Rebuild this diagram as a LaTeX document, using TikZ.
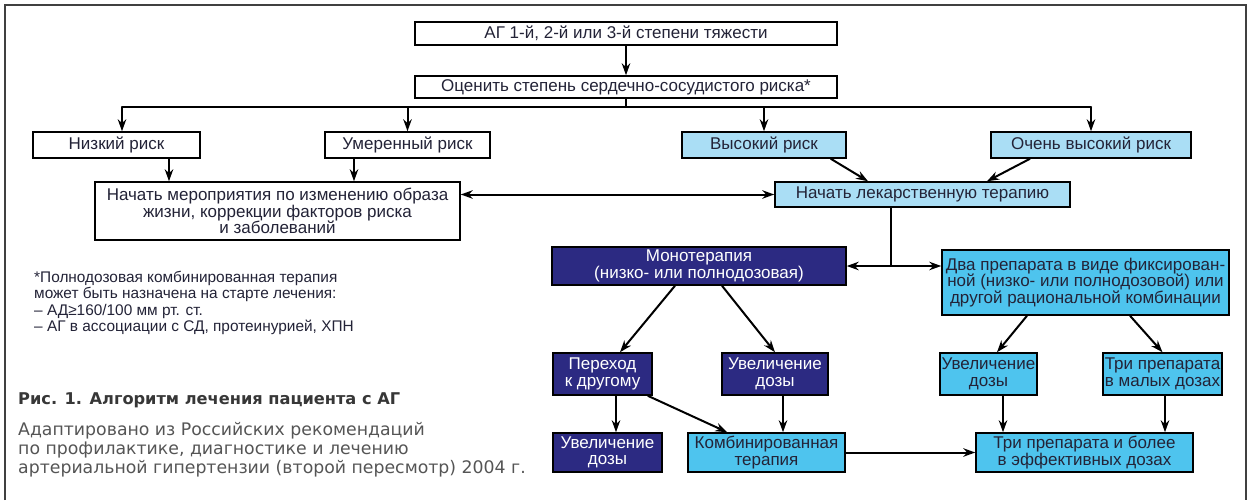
\documentclass[tikz,border=0pt]{standalone}
\usepackage{fontspec}
\setmainfont{Liberation Sans}
\newfontfamily\capfont{DejaVu Sans}
\usetikzlibrary{arrows.meta}
\definecolor{lblue}{RGB}{170,222,245}
\definecolor{cyanb}{RGB}{78,196,238}
\definecolor{navy}{RGB}{44,42,130}
\definecolor{txt}{RGB}{35,35,55}
\definecolor{capgray}{RGB}{55,55,55}
\definecolor{subgray}{RGB}{85,85,85}
\begin{document}
\begin{tikzpicture}[x=1pt,y=-1pt,
  box/.style={draw=black, line width=1.5pt, inner sep=0pt, align=center,
    font=\fontsize{17}{16.5}\selectfont, text=txt},
  wbox/.style={box, fill=white},
  lbox/.style={box, fill=lblue},
  cbox/.style={box, fill=cyanb},
  nbox/.style={box, fill=navy, text=white},
  arr/.style={line width=2pt, -{Stealth[length=12pt,width=8.5pt]}},
  darr/.style={line width=2pt, {Stealth[length=12pt,width=8.5pt]}-{Stealth[length=12pt,width=8.5pt]}},
  ln/.style={line width=2pt},
  note/.style={inner sep=0pt, align=left, text=txt, font=\fontsize{15.4}{16.5}\selectfont},
]
\fill[white] (0,0) rectangle (1251,496);
\draw[line width=1.5pt, black!75] (5,500) -- (5,5) -- (1246,5) -- (1246,500);

% boxes
\node[wbox, minimum width=422pt, minimum height=23pt] (b1) at (626,33.5) {АГ 1-й, 2-й или 3-й степени тяжести};
\node[wbox, minimum width=422pt, minimum height=22pt] (b2) at (626,87) {Оценить степень сердечно-сосудистого риска*};
\node[wbox, minimum width=167pt, minimum height=26pt] (low) at (116.5,145) {Низкий риск};
\node[wbox, minimum width=165pt, minimum height=26pt] (mod) at (407.5,145) {Умеренный риск};
\node[lbox, minimum width=164pt, minimum height=26pt] (high) at (764,145) {Высокий риск};
\node[lbox, minimum width=200pt, minimum height=26pt] (vhigh) at (1091,145) {Очень высокий риск};
\node[wbox, minimum width=365pt, minimum height=58pt] (life) at (277.5,211) {Начать мероприятия по изменению образа\\жизни, коррекции факторов риска\\и заболеваний};
\node[lbox, minimum width=295pt, minimum height=25pt] (drug) at (922.5,194.5) {Начать лекарственную терапию};
\node[nbox, minimum width=294pt, minimum height=38pt] (mono) at (699,266) {Монотерапия\\(низко- или полнодозовая)};
\node[cbox, minimum width=287pt, minimum height=65pt] (two) at (1085.5,282.5) {Два препарата в виде фиксирован-\\ной (низко- или полнодозовой) или\\другой рациональной комбинации};
\node[nbox, minimum width=99pt, minimum height=42pt] (sw) at (602.5,374) {Переход\\к другому};
\node[nbox, minimum width=106pt, minimum height=42pt] (incN) at (775,374) {Увеличение\\дозы};
\node[nbox, minimum width=109pt, minimum height=39pt] (incN2) at (607.5,452.5) {Увеличение\\дозы};
\node[cbox, minimum width=157pt, minimum height=39pt] (comb) at (766.5,452.5) {Комбинированная\\терапия};
\node[cbox, minimum width=97pt, minimum height=42pt] (incC) at (988.5,374) {Увеличение\\дозы};
\node[cbox, minimum width=119pt, minimum height=42pt] (tsm) at (1162.5,374) {Три препарата\\в малых дозах};
\node[cbox, minimum width=217pt, minimum height=39pt] (teff) at (1084.5,452.5) {Три препарата и более\\в эффективных дозах};

% connectors
\draw[arr] (b1.south) -- (b2.north);
\coordinate (jl) at (122,107);
\coordinate (jr) at (1091,107);
\draw[ln] (b2.south) -- (b2.south |- jl);
\draw[ln, line cap=round] (jl) -- (jr);
\draw[arr] (jl) -- (jl |- low.north);
\draw[arr] (mod.north |- jl) -- (mod.north);
\draw[arr] (high.north |- jl) -- (high.north);
\draw[arr] (jr) -- (vhigh.north);
\draw[arr] ([xshift=52.5pt]low.south) -- ([xshift=52.5pt]low.south |- life.north);
\draw[arr] ([xshift=-53.5pt]mod.south) -- ([xshift=-53.5pt]mod.south |- life.north);
\draw[darr] (life.east |- drug.west) -- (drug.west);
\draw[arr] ([xshift=-16pt]high.south east) -- ([xshift=-54.5pt]drug.north);
\draw[arr] ([xshift=-61pt]vhigh.south) -- ([xshift=64.5pt]drug.north);
\coordinate (jm) at (891,266);
\draw[ln] (drug.south -| jm) -- (jm);
\draw[arr] (jm) -- (mono.east |- jm);
\draw[arr] (jm) -- (two.west |- jm);
\draw[arr] ([xshift=-24pt]mono.south) -- ([xshift=17.5pt]sw.north);
\draw[arr] ([xshift=23pt]mono.south) -- (incN.north);
\draw[arr] ([xshift=13.5pt]sw.south) -- ([xshift=13.5pt]sw.south |- incN2.north);
\draw[arr] ([xshift=-5pt]sw.south east) -- ([xshift=40pt]comb.north west);
\draw[arr] ([xshift=8pt]incN.south) -- ([xshift=8pt]incN.south |- comb.north);
\draw[arr] (comb.east) -- (comb.east -| teff.west);
\draw[arr] ([xshift=-58.5pt]two.south) -- ([xshift=8.5pt]incC.north);
\draw[arr] ([xshift=44.5pt]two.south) -- (tsm.north);
\draw[arr] ([xshift=14.5pt]incC.south) -- ([xshift=14.5pt]incC.south |- teff.north);
\draw[arr] ([xshift=2.5pt]tsm.south) -- ([xshift=2.5pt]tsm.south |- teff.north);

% texts
\node[note, anchor=north west] (fn) at (34,271) {*Полнодозовая комбинированная терапия\\может быть назначена на старте лечения:\\– АД≥160/100 мм рт. ст.\\– АГ в ассоциации с СД, протеинурией, ХПН};
\node[inner sep=0pt, anchor=west, text=capgray, font=\capfont\fontsize{16.2}{20}\selectfont\bfseries] (cap) at (18,400) {Рис. 1. Алгоритм лечения пациента с АГ};
\node[inner sep=0pt, anchor=north west, align=left, text=subgray, font=\capfont\fontsize{17.3}{19}\selectfont] (src) at (18,422) {Адаптировано из Российских рекомендаций\\по профилактике, диагностике и лечению\\артериальной гипертензии (второй пересмотр) 2004 г.};
\end{tikzpicture}
\end{document}
